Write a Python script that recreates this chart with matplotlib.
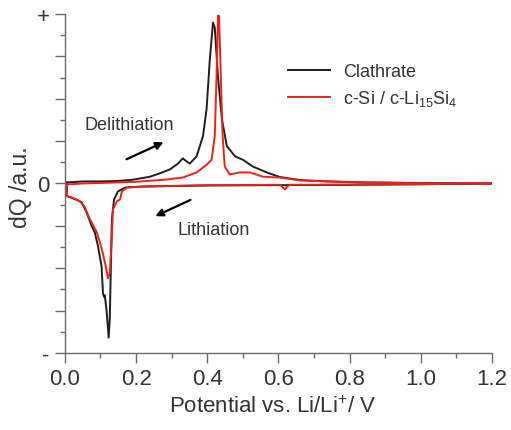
import matplotlib
matplotlib.use("Agg")
import matplotlib.pyplot as plt
from matplotlib.ticker import MultipleLocator

plt.rcParams['font.family'] = ['Liberation Sans', 'DejaVu Sans']
plt.rcParams['mathtext.fontset'] = 'custom'
plt.rcParams['mathtext.rm'] = 'Liberation Sans'
plt.rcParams['mathtext.it'] = 'Liberation Sans'

# Clathrate, delithiation branch (upper)
clat_up_v = [0.005, 0.05, 0.10, 0.15, 0.19, 0.239, 0.267, 0.295, 0.318, 0.331, 0.342, 0.351,
             0.37, 0.388, 0.398, 0.407, 0.416, 0.421, 0.43, 0.441, 0.455, 0.478, 0.50,
             0.528, 0.567, 0.604, 0.66, 0.736, 0.85, 1.0, 1.2]
clat_up_q = [0.006, 0.012, 0.012, 0.015, 0.022, 0.04, 0.06, 0.083, 0.118, 0.148, 0.13, 0.118,
             0.16, 0.28, 0.44, 0.73, 0.95, 0.92, 0.63, 0.38, 0.22, 0.16, 0.14,
             0.10, 0.065, 0.038, 0.02, 0.012, 0.006, 0.003, 0.0]
# Clathrate, lithiation branch (lower)
clat_dn_v = [1.2, 1.0, 0.8, 0.6, 0.4, 0.22, 0.169, 0.149, 0.138, 0.132, 0.129, 0.126, 0.123,
             0.117, 0.112, 0.11, 0.107, 0.103, 0.093, 0.084, 0.075, 0.061, 0.047, 0.02, 0.006, 0.005]
clat_dn_q = [0.0, -0.005, -0.008, -0.01, -0.012, -0.018, -0.024, -0.047, -0.095, -0.21, -0.51, -0.80, -0.91,
             -0.75, -0.66, -0.67, -0.65, -0.49, -0.37, -0.29, -0.25, -0.17, -0.11, -0.085, -0.075, 0.006]

# c-Si / c-Li15Si4, delithiation branch (upper)
si_up_v = [0.005, 0.05, 0.10, 0.15, 0.20, 0.239, 0.28, 0.331, 0.37, 0.398, 0.412, 0.421, 0.426,
           0.43, 0.433, 0.438, 0.443, 0.449, 0.463, 0.49, 0.52, 0.556, 0.604, 0.66, 0.83, 1.0, 1.2]
si_up_q = [-0.006, 0.0, 0.003, 0.006, 0.01, 0.016, 0.022, 0.035, 0.065, 0.11, 0.14, 0.28, 0.63,
           0.99, 0.99, 0.63, 0.28, 0.10, 0.053, 0.065, 0.065, 0.04, 0.035, 0.018, 0.006, 0.002, 0.0]
# c-Si / c-Li15Si4, lithiation branch (lower)
si_dn_v = [1.2, 1.0, 0.8, 0.63, 0.618, 0.605, 0.4, 0.22, 0.174, 0.16, 0.155, 0.146, 0.135, 0.132,
           0.126, 0.121, 0.115, 0.104, 0.09, 0.07, 0.056, 0.042, 0.022, 0.006, 0.005]
si_dn_q = [0.0, -0.004, -0.006, -0.008, -0.035, -0.008, -0.01, -0.018, -0.024, -0.047, -0.095, -0.105,
           -0.155, -0.31, -0.53, -0.56, -0.49, -0.39, -0.29, -0.21, -0.14, -0.105, -0.085, -0.075, -0.006]

ytick_pos = [-1, -0.75, -0.5, -0.25, 0, 0.25, 0.5, 0.75, 1]
ytick_lab = ['-', '', '', '', '0', '', '', '', '+']

fig = plt.figure(figsize=(5.11, 4.31), dpi=100)
ax = fig.add_axes([0.127, 0.179, 0.836, 0.786])

black = '#1e1e1e'
red = '#e8231c'
ax.plot(clat_up_v, clat_up_q, color=black, lw=1.4, label='Clathrate')
ax.plot(clat_dn_v, clat_dn_q, color=black, lw=1.4)
ax.plot(si_up_v, si_up_q, color=red, lw=1.4, label=r'c-Si / c-Li$\mathregular{_{15}}$Si$\mathregular{_4}$')
ax.plot(si_dn_v, si_dn_q, color=red, lw=1.4)

ax.set_xlim(0, 1.2)
ax.set_ylim(-1, 1)
ax.xaxis.set_major_locator(MultipleLocator(0.2))
ax.xaxis.set_minor_locator(MultipleLocator(0.1))
ax.yaxis.set_minor_locator(MultipleLocator(0.125))
ax.set_yticks(ytick_pos)
ax.set_yticklabels(ytick_lab)

for s in ['top', 'right']:
    ax.spines[s].set_visible(False)
for s in ['left', 'bottom']:
    ax.spines[s].set_color('#6a6a6a')
    ax.spines[s].set_linewidth(1.0)
ax.tick_params(which='major', direction='out', length=7, width=1, color='#6a6a6a',
               labelsize=16, labelcolor='#333333', pad=4)
ax.tick_params(which='minor', direction='out', length=3.5, width=1, color='#6a6a6a')

ax.set_xlabel(r'Potential vs. Li/Li$^{+}$/ V', fontsize=16, color='#333333')
ax.xaxis.set_label_coords(0.487, -0.125)
ax.set_ylabel('dQ /a.u.', fontsize=16.5, color='#333333')
ax.yaxis.set_label_coords(-0.078, 0.493)

ax.text(0.056, 0.35, 'Delithiation', fontsize=13, color='#333333', va='center')
ax.text(0.317, -0.27, 'Lithiation', fontsize=13, color='#333333', va='center')
ax.annotate('', xy=(0.284, 0.25), xytext=(0.166, 0.136),
            arrowprops=dict(arrowstyle='-|>', color='black', lw=1.6, mutation_scale=11))
ax.annotate('', xy=(0.247, -0.20), xytext=(0.36, -0.09),
            arrowprops=dict(arrowstyle='-|>', color='black', lw=1.6, mutation_scale=11))

leg = ax.legend(loc='center left', bbox_to_anchor=(0.522, 0.789), frameon=False, fontsize=13,
                handlelength=2.35, handletextpad=0.7, labelspacing=0.45,
                borderaxespad=0, borderpad=0)
for t in leg.get_texts():
    t.set_color('#333333')

fig.savefig('out.png', dpi=100)
